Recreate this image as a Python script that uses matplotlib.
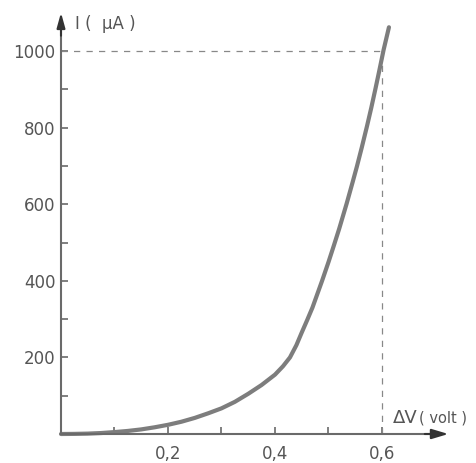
import matplotlib.pyplot as plt
import numpy as np

# curve: voltage (V) and current (uA)
volts = [0, 0.025, 0.05, 0.075, 0.10, 0.125, 0.15, 0.175, 0.20, 0.225, 0.25, 0.275,
         0.30, 0.325, 0.35, 0.375, 0.40, 0.415, 0.428, 0.44, 0.45, 0.46, 0.47,
         0.488, 0.50, 0.51, 0.52, 0.534, 0.545, 0.553, 0.562, 0.572, 0.58, 0.588,
         0.595, 0.603, 0.613]
current = [0, 0.3, 1, 2.5, 5, 8, 12, 17.5, 24, 32, 42, 54,
           67, 84, 105, 128, 155, 177, 200, 232, 265, 297, 330,
           400, 449, 492, 536, 602, 657, 698, 747, 804, 852, 903,
           949, 1003, 1062]

y_major = [200, 400, 600, 800, 1000]
y_minor = [100, 300, 500, 700, 900]
x_major = [0.2, 0.4, 0.6]
x_minor = [0.1, 0.3, 0.5]
x_labels = ['0,2', '0,4', '0,6']
mark_v, mark_i = 0.6, 1000

axis_col = '#6a6a6a'
text_col = '#555555'

fig = plt.figure(figsize=(4.77, 4.63), dpi=100)
ax = fig.add_axes([0, 0, 1, 1])
# pixel layout: origin at (61, 434), 535 px per volt, 383 px per 1000 uA
ax.set_xlim(-61 / 535, (477 - 61) / 535)
ax.set_ylim(-(463 - 434) / 0.383, 434 / 0.383)

for s in ['top', 'right']:
    ax.spines[s].set_visible(False)
ax.spines['left'].set_position(('data', 0))
ax.spines['bottom'].set_position(('data', 0))
ax.spines['left'].set_bounds(0, 1060)
ax.spines['bottom'].set_bounds(0, 0.70)
for s in ['left', 'bottom']:
    ax.spines[s].set_color(axis_col)
    ax.spines[s].set_linewidth(1.5)

ax.set_xticks(x_major)
ax.set_xticklabels(x_labels)
ax.set_xticks(x_minor, minor=True)
ax.set_yticks(y_major)
ax.set_yticks(y_minor, minor=True)
ax.tick_params(which='both', direction='in', length=5, width=1.2, color=axis_col,
               labelcolor=text_col, labelsize=12)
ax.tick_params(axis='x', pad=8)
ax.tick_params(axis='y', pad=4)

# arrow heads
ax.annotate('', xy=(0, 1100), xytext=(0, 1040),
            arrowprops=dict(arrowstyle='-|>,head_width=0.25,head_length=0.9',
                            color='#333333', lw=1.5, shrinkA=0, shrinkB=0))
ax.annotate('', xy=(0.724, 0), xytext=(0.68, 0),
            arrowprops=dict(arrowstyle='-|>,head_width=0.3,head_length=1.0',
                            color='#333333', lw=1.5, shrinkA=0, shrinkB=0))

# dashed guides to the 1000 uA point
ax.plot([0, mark_v], [mark_i, mark_i], ls=(0, (5, 5)), lw=0.9, color='#888888')
ax.plot([mark_v, mark_v], [0, mark_i], ls=(0, (5, 5)), lw=0.9, color='#888888')

ax.plot(volts, current, color='#7d7d7d', lw=3, solid_capstyle='round',
        solid_joinstyle='round')

ax.text(0.026, 1070, 'I (  \u00b5A )', color=text_col, fontsize=12, va='center', ha='left')
ax.text(0.621, 29, '\u0394V', color=text_col, fontsize=13, va='baseline', ha='left')
ax.text(0.670, 29, '( volt )', color=text_col, fontsize=10.5, va='baseline', ha='left')

fig.savefig('out.png', dpi=100)
